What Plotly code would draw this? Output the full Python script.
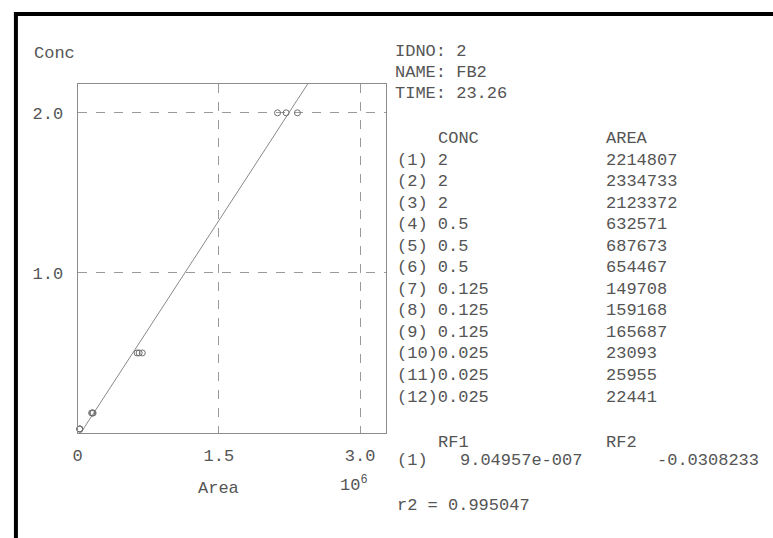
import plotly.graph_objects as go

# ---- data ----
conc = [2, 2, 2, 0.5, 0.5, 0.5, 0.125, 0.125, 0.125, 0.025, 0.025, 0.025]
area = [2214807, 2334733, 2123372, 632571, 687673, 654467,
        149708, 159168, 165687, 23093, 25955, 22441]
rf1 = 9.04957e-007
rf2 = -0.0308233
r2 = 0.995047
header_lines = ["IDNO: 2", "NAME: FB2", "TIME: 23.26"]
x_tickvals = [0, 1.5e6, 3.0e6]
x_ticktext = ["0", "1.5", "3.0"]
y_tickvals = [1.0, 2.0]
y_ticktext = ["1.0", "2.0"]
x_range = [0, 3.27e6]
y_range = [0, 2.18]

W, H = 773, 538
FONT = "Liberation Mono, Courier New, monospace"
TXT = "#555555"
FS = 17

def px(x):
    return x / W

def py(y):
    return 1 - y / H

fig = go.Figure()

# regression line (clipped to plot area)
line_x = [0, x_range[1]]
line_y = [rf1 * v + rf2 for v in line_x]
fig.add_trace(go.Scatter(x=line_x, y=line_y, mode="lines",
                         line=dict(color="#8a8a8a", width=1), hoverinfo="skip"))
fig.add_trace(go.Scatter(x=area, y=conc, mode="markers",
                         marker=dict(symbol="circle-open", size=6,
                                     color="#707070", line=dict(width=1)),
                         cliponaxis=False))

axis_common = dict(showline=True, mirror=True, linecolor="#8c8c8c", linewidth=1,
                   showgrid=True, gridcolor="#9a9a9a", griddash="dash", gridwidth=1,
                   zeroline=False, ticks="",
                   tickfont=dict(family=FONT, size=FS, color=TXT))

fig.update_layout(
    width=W, height=H, margin=dict(l=0, r=0, t=0, b=0),
    paper_bgcolor="white", plot_bgcolor="white", showlegend=False,
    xaxis=dict(domain=[px(73), px(383)], range=x_range,
               tickvals=x_tickvals, ticktext=x_ticktext,
               ticklabelstandoff=7, **axis_common),
    yaxis=dict(domain=[py(433), py(84)], range=y_range,
               tickvals=y_tickvals, ticktext=y_ticktext,
               ticklabelstandoff=10, **axis_common),
)

# scan border (black)
fig.add_shape(type="rect", xref="paper", yref="paper",
              x0=px(9), x1=px(773), y0=py(16), y1=py(12),
              fillcolor="black", line=dict(width=0))
fig.add_shape(type="rect", xref="paper", yref="paper",
              x0=px(9), x1=px(13), y0=py(538), y1=py(12),
              fillcolor="black", line=dict(width=0))

def text(x, y, s, anchor="left"):
    dx = {"left": -4, "right": 4, "center": 0}[anchor]
    fig.add_annotation(x=px(x + dx), y=py(y), xref="paper", yref="paper", text=s,
                       showarrow=False, xanchor=anchor, yanchor="middle",
                       font=dict(family=FONT, size=FS, color=TXT))

text(31, 53, "Conc")
text(215, 488, "Area", "center")
text(339, 484, "10<sup>6</sup>")

for i, s in enumerate(header_lines):
    text(395, 52 + 20.5 * i, s)

text(438, 138, "CONC")
text(607, 138, "AREA")
for i, (c, a) in enumerate(zip(conc, area)):
    y = 160 + 21.55 * i
    text(397, y, f"({i + 1})".ljust(4).replace(" ", "&nbsp;") + f"{c:g}")
    text(607, y, f"{a}")

text(438, 442, "RF1")
text(607, 442, "RF2")
text(397, 460, "(1)")
text(460, 460, f"{rf1:.5e}".replace("e-07", "e-007"))
text(757, 460, f"{rf2:g}", "right")
text(397, 505, f"r2 = {r2:g}")

fig.write_html("out.html")
